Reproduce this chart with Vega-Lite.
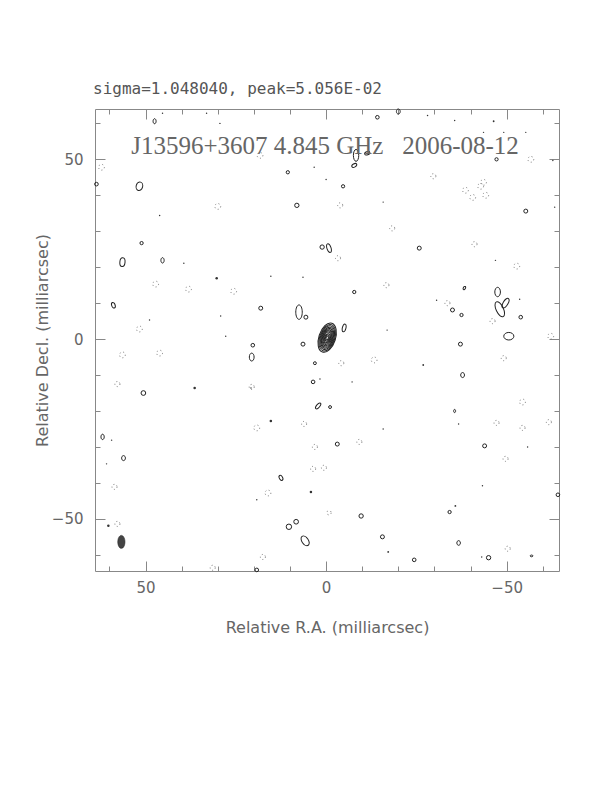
{
  "$schema": "https://vega.github.io/schema/vega-lite/v6.json",
  "width": 464,
  "height": 462,
  "autosize": {"type": "none"},
  "padding": {"left": 95, "top": 109, "right": 53, "bottom": 221},
  "background": "white",
  "config": {"view": {"stroke": "#888", "strokeWidth": 1}, "legend": {"disable": true}},
  "title": {"text": "sigma=1.048040, peak=5.056E-02", "anchor": "start", "frame": "group", "font": "DejaVu Sans Mono", "fontSize": 16, "fontWeight": "normal", "color": "#555", "baseline": "alphabetic", "offset": -3, "dx": -2},
  "data": {"values": [
    {"x": 47.5, "y": 60.6, "d": 1.4, "k": "o6", "pa": 0, "t": "p"},
    {"x": 51.7, "y": 42.5, "d": 2.4, "k": "o75", "pa": 15, "t": "p"},
    {"x": 63.6, "y": 43.1, "d": 1.0, "k": "r", "pa": 0, "t": "p"},
    {"x": 51.1, "y": 26.7, "d": 0.9, "k": "r", "pa": 0, "t": "p"},
    {"x": 56.4, "y": 21.4, "d": 2.4, "k": "o6", "pa": 5, "t": "p"},
    {"x": 45.3, "y": 21.9, "d": 1.5, "k": "o6", "pa": 0, "t": "p"},
    {"x": 58.9, "y": 9.4, "d": 1.6, "k": "o6", "pa": -20, "t": "p"},
    {"x": -14.2, "y": 61.7, "d": 1.0, "k": "r", "pa": 0, "t": "p"},
    {"x": -20.0, "y": 63.3, "d": 1.4, "k": "o75", "pa": 0, "t": "p"},
    {"x": -8.3, "y": 51.1, "d": 3.3, "k": "o45", "pa": 0, "t": "p"},
    {"x": -11.4, "y": 51.7, "d": 1.5, "k": "o6", "pa": 70, "t": "p"},
    {"x": -7.8, "y": 48.3, "d": 1.5, "k": "o6", "pa": 60, "t": "p"},
    {"x": 10.6, "y": 46.4, "d": 0.9, "k": "r", "pa": 0, "t": "p"},
    {"x": -4.7, "y": 42.5, "d": 0.9, "k": "r", "pa": 0, "t": "p"},
    {"x": 8.1, "y": 37.2, "d": 1.2, "k": "r", "pa": 0, "t": "p"},
    {"x": 1.1, "y": 25.6, "d": 1.2, "k": "r", "pa": 0, "t": "p"},
    {"x": -0.8, "y": 25.3, "d": 2.5, "k": "o45", "pa": -20, "t": "p"},
    {"x": -7.8, "y": 13.1, "d": 0.9, "k": "r", "pa": 0, "t": "p"},
    {"x": 18.1, "y": 8.6, "d": 1.1, "k": "r", "pa": 0, "t": "p"},
    {"x": 7.5, "y": 7.5, "d": 4.0, "k": "o45", "pa": 0, "t": "p"},
    {"x": 5.6, "y": 6.1, "d": 1.1, "k": "r", "pa": 0, "t": "p"},
    {"x": -5.0, "y": 3.1, "d": 2.2, "k": "o45", "pa": 15, "t": "p"},
    {"x": -47.2, "y": 50.0, "d": 0.9, "k": "r", "pa": 0, "t": "p"},
    {"x": -55.3, "y": 35.6, "d": 1.1, "k": "r", "pa": 0, "t": "p"},
    {"x": -25.8, "y": 25.3, "d": 1.1, "k": "r", "pa": 0, "t": "p"},
    {"x": -38.3, "y": 14.2, "d": 1.0, "k": "o6", "pa": 30, "t": "p"},
    {"x": -47.5, "y": 13.1, "d": 2.6, "k": "o6", "pa": 0, "t": "p"},
    {"x": -35.0, "y": 8.1, "d": 1.1, "k": "r", "pa": 0, "t": "p"},
    {"x": -37.5, "y": 6.7, "d": 0.9, "k": "r", "pa": 0, "t": "p"},
    {"x": -48.1, "y": 8.3, "d": 4.5, "k": "o45", "pa": -25, "t": "p"},
    {"x": -49.7, "y": 10.0, "d": 3.0, "k": "o45", "pa": 30, "t": "p"},
    {"x": -53.9, "y": 6.1, "d": 1.0, "k": "r", "pa": 0, "t": "p"},
    {"x": -50.6, "y": 0.8, "d": 2.8, "k": "o75", "pa": 90, "t": "p"},
    {"x": 20.6, "y": -5.0, "d": 2.2, "k": "o6", "pa": 0, "t": "p"},
    {"x": 50.6, "y": -15.0, "d": 1.3, "k": "r", "pa": 0, "t": "p"},
    {"x": 61.9, "y": -27.2, "d": 1.5, "k": "o6", "pa": 0, "t": "p"},
    {"x": 56.1, "y": -33.1, "d": 1.4, "k": "o75", "pa": 0, "t": "p"},
    {"x": 20.3, "y": -1.7, "d": 1.0, "k": "r", "pa": 0, "t": "p"},
    {"x": 6.4, "y": -1.4, "d": 1.1, "k": "r", "pa": 0, "t": "p"},
    {"x": 3.1, "y": -6.7, "d": 0.8, "k": "r", "pa": 0, "t": "p"},
    {"x": 3.6, "y": -11.9, "d": 1.0, "k": "r", "pa": 0, "t": "p"},
    {"x": 2.2, "y": -18.6, "d": 2.0, "k": "o45", "pa": 40, "t": "p"},
    {"x": -1.1, "y": -18.9, "d": 0.8, "k": "r", "pa": 0, "t": "p"},
    {"x": -3.1, "y": -29.2, "d": 1.1, "k": "r", "pa": 0, "t": "p"},
    {"x": 12.5, "y": -38.6, "d": 1.5, "k": "o6", "pa": -30, "t": "p"},
    {"x": -9.7, "y": -49.2, "d": 1.2, "k": "r", "pa": 0, "t": "p"},
    {"x": 10.3, "y": -52.2, "d": 1.5, "k": "r", "pa": 0, "t": "p"},
    {"x": 8.3, "y": -50.8, "d": 1.3, "k": "r", "pa": 0, "t": "p"},
    {"x": 5.8, "y": -56.1, "d": 3.0, "k": "o6", "pa": -35, "t": "p"},
    {"x": -15.6, "y": -55.0, "d": 1.1, "k": "r", "pa": 0, "t": "p"},
    {"x": 19.2, "y": -64.2, "d": 1.0, "k": "r", "pa": 0, "t": "p"},
    {"x": -37.2, "y": -1.4, "d": 1.1, "k": "r", "pa": 0, "t": "p"},
    {"x": -37.8, "y": -10.0, "d": 1.4, "k": "o75", "pa": 0, "t": "p"},
    {"x": -35.6, "y": -20.0, "d": 0.9, "k": "o6", "pa": 0, "t": "p"},
    {"x": -43.9, "y": -29.7, "d": 1.1, "k": "r", "pa": 0, "t": "p"},
    {"x": -64.2, "y": -43.3, "d": 1.0, "k": "r", "pa": 0, "t": "p"},
    {"x": -34.2, "y": -48.1, "d": 0.9, "k": "r", "pa": 0, "t": "p"},
    {"x": -36.7, "y": -56.7, "d": 1.3, "k": "o75", "pa": 0, "t": "p"},
    {"x": -24.4, "y": -61.4, "d": 1.0, "k": "r", "pa": 0, "t": "p"},
    {"x": -45.0, "y": -60.8, "d": 1.2, "k": "r", "pa": 0, "t": "p"},
    {"x": -56.9, "y": -60.3, "d": 0.8, "k": "o6", "pa": 90, "t": "p"},
    {"x": 45.3, "y": 62.8, "d": 0.4, "k": "r", "pa": 0, "t": "t"},
    {"x": 33.1, "y": 62.8, "d": 0.4, "k": "r", "pa": 0, "t": "t"},
    {"x": 29.4, "y": 60.0, "d": 0.4, "k": "r", "pa": 0, "t": "t"},
    {"x": 46.1, "y": 34.4, "d": 0.4, "k": "r", "pa": 0, "t": "t"},
    {"x": 39.4, "y": 21.1, "d": 0.4, "k": "r", "pa": 0, "t": "t"},
    {"x": 30.3, "y": 16.9, "d": 0.7, "k": "r", "pa": 0, "t": "t"},
    {"x": 29.2, "y": 6.4, "d": 0.4, "k": "r", "pa": 0, "t": "t"},
    {"x": 48.9, "y": 5.3, "d": 0.4, "k": "r", "pa": 0, "t": "t"},
    {"x": 27.8, "y": 0.8, "d": 0.4, "k": "r", "pa": 0, "t": "t"},
    {"x": 3.3, "y": 47.8, "d": 0.4, "k": "r", "pa": 0, "t": "t"},
    {"x": 0.0, "y": 44.4, "d": 0.4, "k": "r", "pa": 0, "t": "t"},
    {"x": -15.8, "y": 38.1, "d": 0.4, "k": "r", "pa": 0, "t": "t"},
    {"x": 15.3, "y": 17.5, "d": 0.4, "k": "r", "pa": 0, "t": "t"},
    {"x": 6.4, "y": 17.2, "d": 0.4, "k": "r", "pa": 0, "t": "t"},
    {"x": -16.9, "y": 2.5, "d": 0.4, "k": "r", "pa": 0, "t": "t"},
    {"x": -28.1, "y": 62.2, "d": 0.4, "k": "r", "pa": 0, "t": "t"},
    {"x": -35.6, "y": 60.8, "d": 0.4, "k": "r", "pa": 0, "t": "t"},
    {"x": -46.4, "y": 60.6, "d": 0.5, "k": "r", "pa": 0, "t": "t"},
    {"x": -43.6, "y": 57.5, "d": 0.4, "k": "r", "pa": 0, "t": "t"},
    {"x": -49.2, "y": 57.5, "d": 0.4, "k": "r", "pa": 0, "t": "t"},
    {"x": -55.3, "y": 57.5, "d": 0.4, "k": "r", "pa": 0, "t": "t"},
    {"x": -62.8, "y": 49.7, "d": 0.4, "k": "r", "pa": 0, "t": "t"},
    {"x": -63.3, "y": 36.7, "d": 0.4, "k": "r", "pa": 0, "t": "t"},
    {"x": -46.9, "y": 21.9, "d": 0.4, "k": "r", "pa": 0, "t": "t"},
    {"x": -30.6, "y": 10.8, "d": 0.4, "k": "r", "pa": 0, "t": "t"},
    {"x": -53.6, "y": 11.1, "d": 0.4, "k": "r", "pa": 0, "t": "t"},
    {"x": 36.4, "y": -13.6, "d": 0.7, "k": "r", "pa": 0, "t": "t"},
    {"x": 20.8, "y": -13.6, "d": 0.4, "k": "r", "pa": 0, "t": "t"},
    {"x": 59.4, "y": -28.1, "d": 0.4, "k": "r", "pa": 0, "t": "t"},
    {"x": 60.8, "y": -34.7, "d": 0.4, "k": "r", "pa": 0, "t": "t"},
    {"x": 60.3, "y": -51.9, "d": 0.7, "k": "r", "pa": 0, "t": "t"},
    {"x": 1.7, "y": -11.1, "d": 0.4, "k": "r", "pa": 0, "t": "t"},
    {"x": -7.2, "y": -11.9, "d": 0.4, "k": "r", "pa": 0, "t": "t"},
    {"x": 15.3, "y": -22.8, "d": 0.7, "k": "r", "pa": 0, "t": "t"},
    {"x": -15.8, "y": -25.0, "d": 0.4, "k": "r", "pa": 0, "t": "t"},
    {"x": 4.2, "y": -42.5, "d": 0.7, "k": "r", "pa": 0, "t": "t"},
    {"x": 19.2, "y": -44.7, "d": 0.4, "k": "r", "pa": 0, "t": "t"},
    {"x": -17.2, "y": -59.2, "d": 0.5, "k": "r", "pa": 0, "t": "t"},
    {"x": -26.9, "y": -7.2, "d": 0.5, "k": "r", "pa": 0, "t": "t"},
    {"x": -36.7, "y": -23.6, "d": 0.4, "k": "r", "pa": 0, "t": "t"},
    {"x": -55.8, "y": -30.0, "d": 0.4, "k": "r", "pa": 0, "t": "t"},
    {"x": -43.3, "y": -40.8, "d": 0.4, "k": "r", "pa": 0, "t": "t"},
    {"x": -35.8, "y": -46.4, "d": 0.5, "k": "r", "pa": 0, "t": "t"},
    {"x": -43.1, "y": -60.6, "d": 0.4, "k": "r", "pa": 0, "t": "t"},
    {"x": 62.2, "y": 47.8, "d": 1.6, "k": "r", "pa": 0, "t": "n"},
    {"x": 30.0, "y": 36.9, "d": 1.6, "k": "r", "pa": 0, "t": "n"},
    {"x": 47.2, "y": 15.3, "d": 1.6, "k": "r", "pa": 0, "t": "n"},
    {"x": 38.1, "y": 13.9, "d": 1.6, "k": "r", "pa": 0, "t": "n"},
    {"x": 25.6, "y": 13.3, "d": 1.6, "k": "r", "pa": 0, "t": "n"},
    {"x": 51.7, "y": 2.8, "d": 1.6, "k": "r", "pa": 0, "t": "n"},
    {"x": 18.3, "y": 51.1, "d": 1.6, "k": "r", "pa": 0, "t": "n"},
    {"x": -3.9, "y": 37.2, "d": 1.4, "k": "r", "pa": 0, "t": "n"},
    {"x": -18.3, "y": 30.8, "d": 1.4, "k": "r", "pa": 0, "t": "n"},
    {"x": -3.3, "y": 22.5, "d": 1.4, "k": "r", "pa": 0, "t": "n"},
    {"x": -16.7, "y": 15.0, "d": 1.4, "k": "r", "pa": 0, "t": "n"},
    {"x": -56.7, "y": 50.0, "d": 1.6, "k": "r", "pa": 0, "t": "n"},
    {"x": -29.7, "y": 45.3, "d": 1.4, "k": "r", "pa": 0, "t": "n"},
    {"x": -38.6, "y": 41.4, "d": 1.6, "k": "r", "pa": 0, "t": "n"},
    {"x": -40.6, "y": 39.4, "d": 1.6, "k": "r", "pa": 0, "t": "n"},
    {"x": -42.8, "y": 42.5, "d": 1.6, "k": "r", "pa": 0, "t": "n"},
    {"x": -44.2, "y": 40.0, "d": 1.6, "k": "r", "pa": 0, "t": "n"},
    {"x": -43.6, "y": 43.6, "d": 1.6, "k": "r", "pa": 0, "t": "n"},
    {"x": -41.1, "y": 26.4, "d": 1.4, "k": "r", "pa": 0, "t": "n"},
    {"x": -52.8, "y": 20.3, "d": 1.6, "k": "r", "pa": 0, "t": "n"},
    {"x": -33.6, "y": 10.0, "d": 1.4, "k": "r", "pa": 0, "t": "n"},
    {"x": -46.1, "y": 5.0, "d": 1.4, "k": "r", "pa": 0, "t": "n"},
    {"x": -62.2, "y": 0.8, "d": 1.6, "k": "r", "pa": 0, "t": "n"},
    {"x": 56.4, "y": -4.4, "d": 1.6, "k": "r", "pa": 0, "t": "n"},
    {"x": 46.1, "y": -3.9, "d": 1.6, "k": "r", "pa": 0, "t": "n"},
    {"x": 57.8, "y": -12.5, "d": 1.4, "k": "r", "pa": 0, "t": "n"},
    {"x": 58.6, "y": -41.1, "d": 1.4, "k": "r", "pa": 0, "t": "n"},
    {"x": 57.8, "y": -51.4, "d": 1.4, "k": "r", "pa": 0, "t": "n"},
    {"x": 31.4, "y": -63.6, "d": 1.4, "k": "r", "pa": 0, "t": "n"},
    {"x": -4.2, "y": -6.7, "d": 1.4, "k": "r", "pa": 0, "t": "n"},
    {"x": -13.3, "y": -5.8, "d": 1.6, "k": "r", "pa": 0, "t": "n"},
    {"x": 20.6, "y": -13.3, "d": 1.4, "k": "r", "pa": 0, "t": "n"},
    {"x": 19.2, "y": -24.7, "d": 1.6, "k": "r", "pa": 0, "t": "n"},
    {"x": 6.1, "y": -23.6, "d": 1.4, "k": "r", "pa": 0, "t": "n"},
    {"x": 3.1, "y": -30.0, "d": 1.4, "k": "r", "pa": 0, "t": "n"},
    {"x": -9.2, "y": -28.6, "d": 1.4, "k": "r", "pa": 0, "t": "n"},
    {"x": 3.6, "y": -36.1, "d": 1.4, "k": "r", "pa": 0, "t": "n"},
    {"x": 0.6, "y": -35.8, "d": 1.4, "k": "r", "pa": 0, "t": "n"},
    {"x": 16.1, "y": -42.8, "d": 1.6, "k": "r", "pa": 0, "t": "n"},
    {"x": -0.8, "y": -48.3, "d": 1.2, "k": "r", "pa": 0, "t": "n"},
    {"x": 17.5, "y": -60.6, "d": 1.4, "k": "r", "pa": 0, "t": "n"},
    {"x": -49.2, "y": -5.3, "d": 1.4, "k": "r", "pa": 0, "t": "n"},
    {"x": -54.4, "y": -17.5, "d": 1.6, "k": "r", "pa": 0, "t": "n"},
    {"x": -47.2, "y": -23.3, "d": 1.4, "k": "r", "pa": 0, "t": "n"},
    {"x": -54.4, "y": -24.7, "d": 1.4, "k": "r", "pa": 0, "t": "n"},
    {"x": -61.7, "y": -23.1, "d": 1.4, "k": "r", "pa": 0, "t": "n"},
    {"x": -49.7, "y": -33.3, "d": 1.4, "k": "r", "pa": 0, "t": "n"},
    {"x": -50.3, "y": -58.3, "d": 1.4, "k": "r", "pa": 0, "t": "n"},
    {"x": -0.3, "y": 0.4, "d": 8.4, "k": "o55", "pa": 18, "t": "c"},
    {"x": -0.3, "y": 0.4, "d": 7.6, "k": "o55", "pa": 18, "t": "c"},
    {"x": -0.3, "y": 0.4, "d": 6.8, "k": "o55", "pa": 18, "t": "c"},
    {"x": -0.3, "y": 0.4, "d": 6.0, "k": "o55", "pa": 18, "t": "c"},
    {"x": -0.3, "y": 0.4, "d": 5.3, "k": "o55", "pa": 18, "t": "c"},
    {"x": -0.3, "y": 0.4, "d": 4.6, "k": "o55", "pa": 18, "t": "c"},
    {"x": -0.3, "y": 0.4, "d": 3.9, "k": "o55", "pa": 18, "t": "c"},
    {"x": -0.3, "y": 0.4, "d": 3.2, "k": "o55", "pa": 18, "t": "c"},
    {"x": -0.3, "y": 0.3, "d": 2.5, "k": "o55", "pa": 18, "t": "c"},
    {"x": -0.3, "y": 0.3, "d": 1.8, "k": "o55", "pa": 18, "t": "c"},
    {"x": -0.3, "y": 0.3, "d": 1.1, "k": "o55", "pa": 18, "t": "c"},
    {"x": 56.7, "y": -56.4, "d": 3.6, "k": "o55", "pa": 0, "t": "b"}
  ]},
  "encoding": {
    "x": {
      "field": "x", "type": "quantitative",
      "scale": {"domain": [64, -64.5], "nice": false, "zero": false},
      "axis": {
        "title": "Relative R.A. (milliarcsec)",
        "values": [-60, -50, -40, -30, -20, -10, 0, 10, 20, 30, 40, 50, 60],
        "domain": false, "ticks": false, "grid": true,
        "gridColor": "#888", "gridWidth": 1, "gridOpacity": 1,
        "gridDash": {"condition": {"test": "datum.value % 50 === 0", "value": [10, 442, 10]}, "value": [5, 452, 5]},
        "labelExpr": "datum.value % 50 === 0 ? datum.label : ''",
        "labelFont": "DejaVu Sans", "labelFontSize": 15, "labelColor": "#666",
        "labelPadding": 21, "labelBaseline": "alphabetic", "labelOverlap": false, "labelFlush": false,
        "titleFont": "DejaVu Sans", "titleFontSize": 16, "titleFontWeight": "normal", "titleColor": "#666",
        "titleY": 61, "titleBaseline": "alphabetic"
      }
    },
    "y": {
      "field": "y", "type": "quantitative",
      "scale": {"domain": [-64.5, 64], "nice": false, "zero": false},
      "axis": {
        "title": "Relative Decl. (milliarcsec)",
        "values": [-60, -50, -40, -30, -20, -10, 0, 10, 20, 30, 40, 50, 60],
        "domain": false, "ticks": false, "grid": true,
        "gridColor": "#888", "gridWidth": 1, "gridOpacity": 1,
        "gridDash": {"condition": {"test": "datum.value % 50 === 0", "value": [10, 444, 10]}, "value": [5, 454, 5]},
        "labelExpr": "datum.value % 50 === 0 ? datum.label : ''",
        "labelFont": "DejaVu Sans", "labelFontSize": 15, "labelColor": "#666",
        "labelPadding": 12, "labelOverlap": false, "labelFlush": false,
        "titleFont": "DejaVu Sans", "titleFontSize": 16, "titleFontWeight": "normal", "titleColor": "#666",
        "titleX": -48, "titleY": 231, "titleBaseline": "alphabetic"
      }
    }
  },
  "layer": [
    {
      "transform": [{"filter": "datum.t === 'n'"}],
      "mark": {"type": "point", "shape": "circle", "filled": false, "stroke": "#777", "strokeWidth": 1, "strokeDash": [1, 2.5], "opacity": 1},
      "encoding": {
        "size": {"field": "d", "type": "quantitative", "scale": {"type": "pow", "exponent": 2, "domain": [0, 10], "range": [0, 1303]}}
      }
    },
    {
      "transform": [{"filter": "datum.t === 't'"}],
      "mark": {"type": "point", "shape": "circle", "filled": true, "fill": "#333", "opacity": 1},
      "encoding": {
        "size": {"field": "d", "type": "quantitative", "scale": {"type": "pow", "exponent": 2, "domain": [0, 10], "range": [0, 1303]}}
      }
    },
    {
      "transform": [{"filter": "datum.t === 'p' || datum.t === 'c'"}],
      "mark": {"type": "point", "filled": false, "stroke": "#222", "strokeWidth": 1, "opacity": 1},
      "encoding": {
        "size": {"field": "d", "type": "quantitative", "scale": {"type": "pow", "exponent": 2, "domain": [0, 10], "range": [0, 1303]}},
        "shape": {"field": "k", "type": "nominal", "scale": {"domain": ["r", "o45", "o55", "o6", "o75"], "range": ["circle", "M0,-1C0.249,-1 0.45,-0.552 0.45,0C0.45,0.552 0.249,1 0,1C-0.249,1 -0.45,0.552 -0.45,0C-0.45,-0.552 -0.249,-1 0,-1Z", "M0,-1C0.304,-1 0.55,-0.552 0.55,0C0.55,0.552 0.304,1 0,1C-0.304,1 -0.55,0.552 -0.55,0C-0.55,-0.552 -0.304,-1 0,-1Z", "M0,-1C0.331,-1 0.6,-0.552 0.6,0C0.6,0.552 0.331,1 0,1C-0.331,1 -0.6,0.552 -0.6,0C-0.6,-0.552 -0.331,-1 0,-1Z", "M0,-1C0.414,-1 0.75,-0.552 0.75,0C0.75,0.552 0.414,1 0,1C-0.414,1 -0.75,0.552 -0.75,0C-0.75,-0.552 -0.414,-1 0,-1Z"]}},
        "angle": {"field": "pa", "type": "quantitative", "scale": null}
      }
    },
    {
      "transform": [{"filter": "datum.t === 'b'"}],
      "mark": {"type": "point", "filled": true, "fill": "#444", "stroke": "#222", "strokeWidth": 0.6, "opacity": 1},
      "encoding": {
        "size": {"field": "d", "type": "quantitative", "scale": {"type": "pow", "exponent": 2, "domain": [0, 10], "range": [0, 1303]}},
        "shape": {"field": "k", "type": "nominal", "scale": {"domain": ["r", "o45", "o55", "o6", "o75"], "range": ["circle", "M0,-1C0.249,-1 0.45,-0.552 0.45,0C0.45,0.552 0.249,1 0,1C-0.249,1 -0.45,0.552 -0.45,0C-0.45,-0.552 -0.249,-1 0,-1Z", "M0,-1C0.304,-1 0.55,-0.552 0.55,0C0.55,0.552 0.304,1 0,1C-0.304,1 -0.55,0.552 -0.55,0C-0.55,-0.552 -0.304,-1 0,-1Z", "M0,-1C0.331,-1 0.6,-0.552 0.6,0C0.6,0.552 0.331,1 0,1C-0.331,1 -0.6,0.552 -0.6,0C-0.6,-0.552 -0.331,-1 0,-1Z", "M0,-1C0.414,-1 0.75,-0.552 0.75,0C0.75,0.552 0.414,1 0,1C-0.414,1 -0.75,0.552 -0.75,0C-0.75,-0.552 -0.414,-1 0,-1Z"]}}
      }
    },
    {
      "data": {"values": [{"x": 0.3, "y": 51.5, "label": "J13596+3607 4.845 GHz\u00a0\u00a0\u00a02006-08-12"}]},
      "mark": {"type": "text", "font": "Liberation Serif", "fontSize": 25, "color": "#666", "align": "center", "baseline": "alphabetic"},
      "encoding": {"text": {"field": "label", "type": "nominal"}}
    }
  ]
}
